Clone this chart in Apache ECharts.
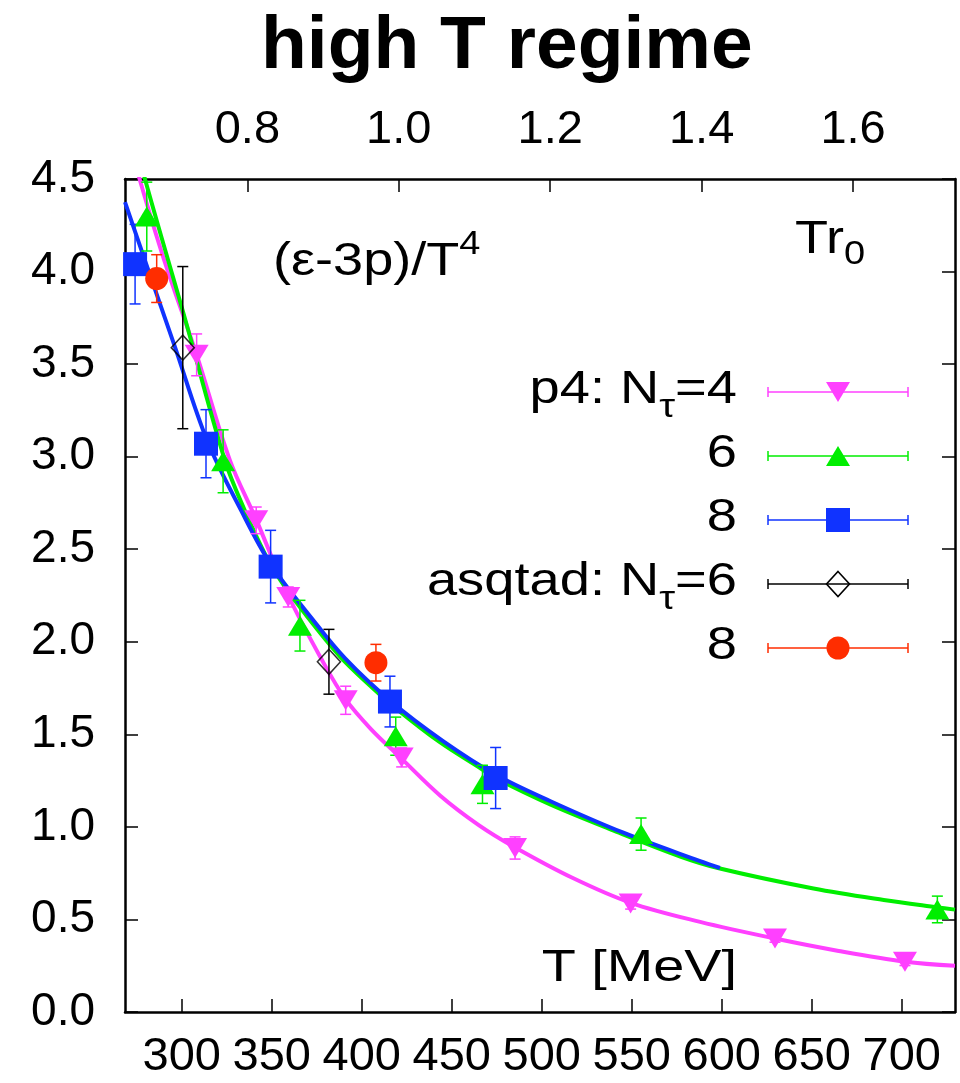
<!DOCTYPE html>
<html><head><meta charset="utf-8">
<script src="https://cdn.jsdelivr.net/npm/echarts@6/dist/echarts.min.js"></script>
<style>html,body{margin:0;padding:0;background:#fff}#c{width:960px;height:1083px}</style>
</head><body><div id="c"></div>
<script>
// ---- axis ticks ----
const tTicks = [300, 350, 400, 450, 500, 550, 600, 650, 700];
const tr0Ticks = [0.8, 1.0, 1.2, 1.4, 1.6];
const T_MIN = 268.5, T_MAX = 729.6, T_PER_TR0 = 420.6;

// ---- data points: [T (MeV), (e-3p)/T^4, error] ----
const p4N4 = [[308.3,3.55,0.113],[341.4,2.656,0.072],[359.2,2.242,0.054],[391.1,1.684,0.076],[422.2,1.375,0.051],[485.2,0.886,0.06],[549.4,0.586,0.03],[629.6,0.397,0.02],[701.8,0.271,0.02]];
const p4N6 = [[280.6,4.297,0.186],[323.0,2.975,0.17],[365.7,2.087,0.137],[418.9,1.49,0.103],[467.1,1.23,0.103],[555.2,0.961,0.087],[719.8,0.554,0.072]];
const p4N8 = [[274.1,4.04,0.215],[313.5,3.07,0.184],[349.4,2.406,0.196],[415.7,1.677,0.137],[474.4,1.264,0.165]];
const asqN6 = [[300.6,3.589,0.438],[381.8,1.892,0.175]];
const asqN8 = [[286.1,3.962,0.129],[407.9,1.887,0.099]];

// ---- fit curves: [T, value] ----
const fitN4 = [[270,4.74],[276.6,4.5],[290,4.07],[308.3,3.55],[326.8,2.98],[341.4,2.66],[359.2,2.25],[378,1.90],[391,1.69],[405,1.53],[422,1.37],[443.5,1.17],[465,1.01],[485,0.89],[517,0.725],[549.4,0.59],[588,0.487],[629.6,0.397],[665,0.33],[702,0.272],[729.6,0.25]];
const fitN6 = [[272,4.80],[279.6,4.5],[302,3.74],[324,2.98],[335,2.71],[347,2.46],[355,2.33],[367,2.17],[388,1.92],[405,1.76],[419,1.64],[443,1.46],[467,1.31],[475,1.26],[505,1.12],[540,0.98],[577,0.84],[599,0.775],[651,0.667],[690,0.605],[720,0.565],[729.6,0.553]];
const fitN8 = [[268.5,4.375],[280.3,4.04],[296,3.60],[314,3.09],[333,2.71],[349.4,2.42],[372,2.13],[390.8,1.91],[416,1.68],[445,1.465],[474.8,1.28],[504.6,1.14],[545,0.97],[588,0.815],[599,0.778]];

// ---- texts ----
const titleText = 'high T regime';
const legendLabels = [['p4: N','τ','=4'], ['6'], ['8'], ['asqtad: N','τ','=6'], ['8']];
const quantityLabel = ['(ε-3p)/T', '4'];
const tr0Label = ['Tr', '0'];
const xLabel = 'T [MeV]';

const FF = "'Liberation Sans', Arial, Helvetica, sans-serif";
const C_M = '#ff40ff', C_G = '#00ee00', C_B = '#1033ff', C_K = '#000000', C_R = '#ff2d00';

function errSeries(data, color) {
  return {
    type: 'custom', xAxisIndex: 0, yAxisIndex: 0, z: 3, clip: true, silent: true,
    encode: { x: 0, y: 1 },
    data: data,
    renderItem: function (params, api) {
      const t = api.value(0), v = api.value(1), e = api.value(2);
      const a = api.coord([t, v + e]), b = api.coord([t, v - e]);
      const w = 5.5, st = { stroke: color, lineWidth: 1.5 };
      return { type: 'group', children: [
        { type: 'line', shape: { x1: a[0], y1: a[1], x2: b[0], y2: b[1] }, style: st },
        { type: 'line', shape: { x1: a[0]-w, y1: a[1], x2: a[0]+w, y2: a[1] }, style: st },
        { type: 'line', shape: { x1: b[0]-w, y1: b[1], x2: b[0]+w, y2: b[1] }, style: st }
      ]};
    }
  };
}
function pts(data) { return data.map(d => [d[0], d[1]]); }
function scat(name, data, color, symbol, size, rotate, hollow) {
  return {
    name: name, type: 'scatter', xAxisIndex: 0, yAxisIndex: 0, z: 4, silent: true,
    data: pts(data), symbol: symbol, symbolSize: size, symbolRotate: rotate || 0,
    itemStyle: hollow ? { color: 'rgba(0,0,0,0)', borderColor: color, borderWidth: 1.6 } : { color: color, opacity: 1 }
  };
}
function fitLine(data, color, z) {
  return { type: 'line', xAxisIndex: 0, yAxisIndex: 0, data: data, smooth: 0.35, showSymbol: false, symbol: 'none',
           clip: true, silent: true, z: z, lineStyle: { color: color, width: 4 } };
}

// ---- legend (graphic) ----
const legendColors = [C_M, C_G, C_B, C_K, C_R];
const legendMarkers = ['down', 'up', 'square', 'diamond', 'circle'];
const legendY = [392, 456, 520, 584, 648];
const richLegend = {
  m: { fontSize: 46, fontFamily: FF, fill: '#000', verticalAlign: 'middle' },
  s: { fontSize: 34, fontFamily: FF, fill: '#000', verticalAlign: 'middle', padding: [36, 0, 0, 0] }
};
function richText(parts, mainKey, secKey) {
  if (parts.length === 1) return '{' + mainKey + '|' + parts[0] + '}';
  let s = '{' + mainKey + '|' + parts[0] + '}{' + secKey + '|' + parts[1] + '}';
  if (parts[2]) s += '{' + mainKey + '|' + parts[2] + '}';
  return s;
}
const graphics = [];
legendLabels.forEach((lab, i) => {
  const y = legendY[i], col = legendColors[i], mx = 838;
  graphics.push({ type: 'text', x: 737, y: y - 2, scaleX: 1.18, silent: true,
    style: { text: richText(lab, 'm', 's'), rich: richLegend, align: 'right', verticalAlign: 'middle', fill: '#000' } });
  const st = { stroke: col, lineWidth: 1.5 };
  graphics.push({ type: 'line', silent: true, shape: { x1: 768, y1: y, x2: 908, y2: y }, style: st });
  graphics.push({ type: 'line', silent: true, shape: { x1: 768, y1: y - 5, x2: 768, y2: y + 5 }, style: st });
  graphics.push({ type: 'line', silent: true, shape: { x1: 908, y1: y - 5, x2: 908, y2: y + 5 }, style: st });
  const m = legendMarkers[i];
  if (m === 'down') graphics.push({ type: 'polygon', x: mx, y: y, silent: true, shape: { points: [[-12,-10],[12,-10],[0,10]] }, style: { fill: col } });
  if (m === 'up') graphics.push({ type: 'polygon', x: mx, y: y, silent: true, shape: { points: [[-12,10],[12,10],[0,-10]] }, style: { fill: col } });
  if (m === 'square') graphics.push({ type: 'rect', x: mx, y: y, silent: true, shape: { x: -12, y: -12, width: 24, height: 24 }, style: { fill: col } });
  if (m === 'diamond') graphics.push({ type: 'polygon', x: mx, y: y, silent: true, shape: { points: [[0,-12.5],[11.5,0],[0,12.5],[-11.5,0]] }, style: { fill: 'none', stroke: col, lineWidth: 1.6 } });
  if (m === 'circle') graphics.push({ type: 'circle', x: mx, y: y, silent: true, shape: { cx: 0, cy: 0, r: 11.5 }, style: { fill: col } });
});
graphics.push({ type: 'text', x: 273, y: 262, scaleX: 1.15, silent: true,
  style: { text: '{m|' + quantityLabel[0] + '}{p|' + quantityLabel[1] + '}', align: 'left', verticalAlign: 'middle',
    rich: { m: { fontSize: 47, fontFamily: FF, fill: '#000', verticalAlign: 'middle' },
            p: { fontSize: 33, fontFamily: FF, fill: '#000', verticalAlign: 'middle', padding: [0, 0, 34, 0] } } } });
graphics.push({ type: 'text', x: 795, y: 240, scaleX: 1.15, silent: true,
  style: { text: '{m|' + tr0Label[0] + '}{s|' + tr0Label[1] + '}', align: 'left', verticalAlign: 'middle',
    rich: { m: { fontSize: 47, fontFamily: FF, fill: '#000', verticalAlign: 'middle' },
            s: { fontSize: 33, fontFamily: FF, fill: '#000', verticalAlign: 'middle', padding: [30, 0, 0, 0] } } } });
graphics.push({ type: 'text', x: 737, y: 969, scaleX: 1.24, silent: true,
  style: { text: xLabel, fontSize: 45, fontFamily: FF, fill: '#000', align: 'right', verticalAlign: 'middle' } });

const axisLineStyle = { onZero: false, lineStyle: { color: '#000', width: 2.5 } };
const tickStyle = { color: '#000', width: 1.5 };

const option = {
  animation: false,
  backgroundColor: '#ffffff',
  title: { text: titleText, left: 261, top: 10, padding: 0,
           textStyle: { fontSize: 75, fontWeight: 'bold', fontFamily: FF, color: '#000' } },
  grid: { left: 125, right: 5, top: 179, bottom: 71, containLabel: false },
  xAxis: [
    { type: 'value', position: 'bottom', min: T_MIN, max: T_MAX, axisLine: axisLineStyle,
      axisTick: { inside: true, length: 13, customValues: tTicks, lineStyle: tickStyle },
      axisLabel: { customValues: tTicks, fontSize: 47, fontFamily: FF, color: '#000', margin: 22 },
      splitLine: { show: false } },
    { type: 'value', position: 'top', min: T_MIN / T_PER_TR0, max: T_MAX / T_PER_TR0, axisLine: axisLineStyle,
      axisTick: { inside: true, length: 13, customValues: tr0Ticks, lineStyle: tickStyle },
      axisLabel: { customValues: tr0Ticks, fontSize: 47, fontFamily: FF, color: '#000', margin: 25,
                   formatter: v => Number(v).toFixed(1) },
      splitLine: { show: false } }
  ],
  yAxis: [
    { type: 'value', position: 'left', min: 0, max: 4.5, interval: 0.5, axisLine: axisLineStyle,
      axisTick: { inside: true, length: 13, lineStyle: tickStyle },
      axisLabel: { fontSize: 46, fontFamily: FF, color: '#000', margin: 30, formatter: v => Number(v).toFixed(1) },
      splitLine: { show: false } },
    { type: 'value', position: 'right', min: 0, max: 4.5, interval: 0.5, axisLine: axisLineStyle,
      axisTick: { inside: true, length: 13, lineStyle: tickStyle },
      axisLabel: { show: false }, splitLine: { show: false } }
  ],
  graphic: { elements: graphics },
  series: [
    fitLine(fitN4, C_M, 2),
    fitLine(fitN6, C_G, 2),
    fitLine(fitN8, C_B, 2),
    errSeries(p4N4, C_M), errSeries(p4N6, C_G), errSeries(p4N8, C_B), errSeries(asqN6, C_K), errSeries(asqN8, C_R),
    scat('p4: Nτ=4', p4N4, C_M, 'triangle', [24, 20], 180, false),
    scat('p4: Nτ=6', p4N6, C_G, 'triangle', [24, 20], 0, false),
    scat('p4: Nτ=8', p4N8, C_B, 'rect', 24, 0, false),
    scat('asqtad: Nτ=6', asqN6, C_K, 'diamond', [23, 25], 0, true),
    scat('asqtad: Nτ=8', asqN8, C_R, 'circle', 23, 0, false)
  ]
};
const chart = echarts.init(document.getElementById('c'), null, { renderer: 'canvas' });
chart.setOption(option);
</script>
</body></html>
